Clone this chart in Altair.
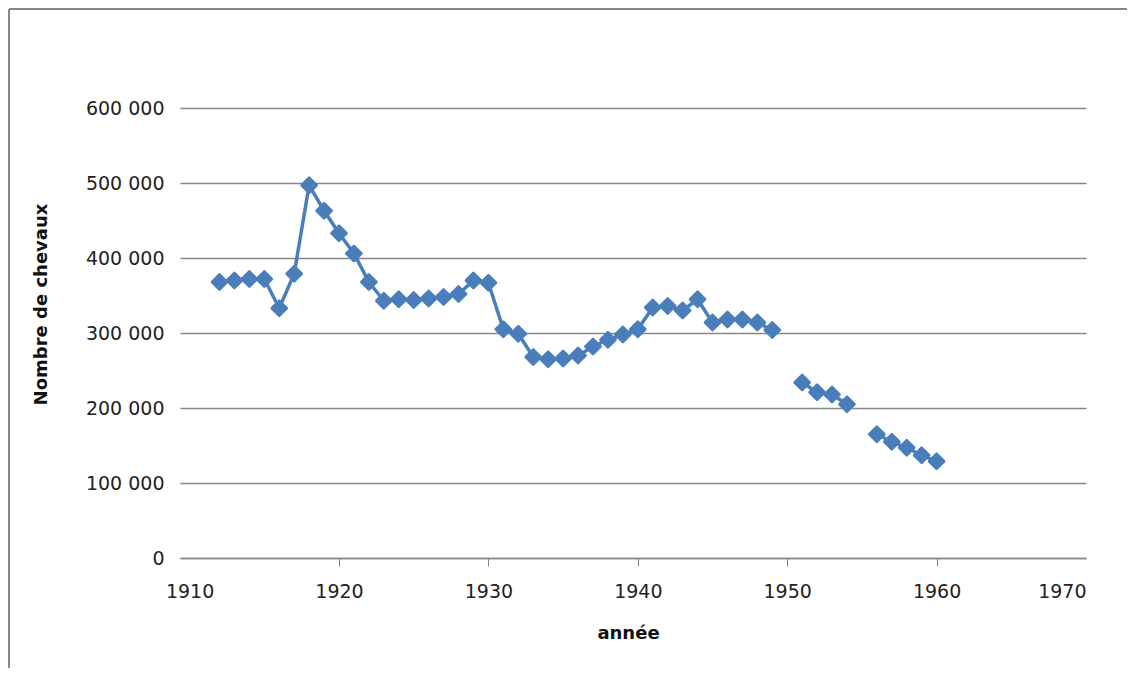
import altair as alt
import pandas as pd

years = [1912, 1913, 1914, 1915, 1916, 1917, 1918, 1919, 1920, 1921,
         1922, 1923, 1924, 1925, 1926, 1927, 1928, 1929, 1930, 1931,
         1932, 1933, 1934, 1935, 1936, 1937, 1938, 1939, 1940, 1941,
         1942, 1943, 1944, 1945, 1946, 1947, 1948, 1949,
         1951, 1952, 1953, 1954,
         1956, 1957, 1958, 1959, 1960]
horses = [368000, 370000, 372000, 372000, 333000, 379000, 497000, 463000, 433000, 406000,
          368000, 343000, 345000, 344000, 346000, 348000, 352000, 370000, 367000, 305000,
          299000, 268000, 265000, 266000, 270000, 282000, 291000, 298000, 305000, 334000,
          336000, 330000, 345000, 314000, 318000, 318000, 314000, 304000,
          234000, 221000, 218000, 205000,
          165000, 155000, 147000, 137000, 129000]

x_ticks = [1910, 1920, 1930, 1940, 1950, 1960, 1970]
y_ticks = [0, 100000, 200000, 300000, 400000, 500000, 600000]

df = pd.DataFrame({"annee": years, "chevaux": horses})
# split into continuous runs (missing years break the line)
df["segment"] = (df["annee"].diff().fillna(1) > 1).cumsum()

BLUE = "#4a7ebb"
GRID = "#868686"
FONT = "DejaVu Sans"

x_enc = alt.X(
    "annee:Q",
    scale=alt.Scale(domain=[1909.357, 1970], nice=False, zero=False),
    axis=alt.Axis(
        values=x_ticks, grid=False, format="d",
        domainColor=GRID, domainWidth=1.5,
        tickColor=GRID, tickWidth=1, tickSize=8,
        tickOpacity={"condition": {"test": "datum.value == 1910 || datum.value == 1970", "value": 0}, "value": 1},
        labelFont=FONT, labelFontSize=19, labelColor="#222222", labelPadding=16,
        title="année", titleFont=FONT, titleFontSize=18, titleFontWeight="bold",
        titleColor="#111111", titleX=448, titleY=80, titleBaseline="alphabetic",
        titleAlign="center", titleAnchor="middle",
    ),
)
y_enc = alt.Y(
    "chevaux:Q",
    scale=alt.Scale(domain=[0, 600000], nice=False),
    axis=alt.Axis(
        values=y_ticks, grid=True, gridColor=GRID, gridWidth=1.3,
        domain=False, ticks=False,
        labelExpr="replace(format(datum.value, ','), ',', ' ')",
        labelFont=FONT, labelFontSize=19, labelColor="#222222", labelPadding=16,
        title="Nombre de chevaux", titleFont=FONT, titleFontSize=18, titleFontWeight="bold",
        titleColor="#111111", titleX=-134, titleY=196, titleBaseline="alphabetic",
        titleAlign="center", titleAnchor="middle", titleAngle=270,
    ),
)

base = alt.Chart(df)
line = base.mark_line(color=BLUE, strokeWidth=3.5).encode(x=x_enc, y=y_enc, detail="segment:N")
points = base.mark_point(
    shape="diamond", filled=True, size=230, color=BLUE, opacity=1,
    stroke=BLUE, strokeWidth=2.5, strokeJoin="round"
).encode(x="annee:Q", y="chevaux:Q")

frame_df = pd.DataFrame({"k": [0]})
frame_left = alt.Chart(frame_df).mark_rule(color=GRID, strokeWidth=2).encode(
    x=alt.value(-171), y=alt.value(-99), y2=alt.value(620)
)
frame_top = alt.Chart(frame_df).mark_rule(color=GRID, strokeWidth=2).encode(
    x=alt.value(-171), x2=alt.value(970), y=alt.value(-99)
)

chart = (
    alt.layer(line, points, frame_left, frame_top)
    .properties(
        width=906, height=450,
        padding={"left": 172, "top": 100, "right": 41, "bottom": 110},
        autosize=alt.AutoSizeParams(type="none"),
        background="white",
    )
    .configure_view(stroke=None)
)

chart.save("out.html", embed_options={"renderer": "svg", "actions": False})
